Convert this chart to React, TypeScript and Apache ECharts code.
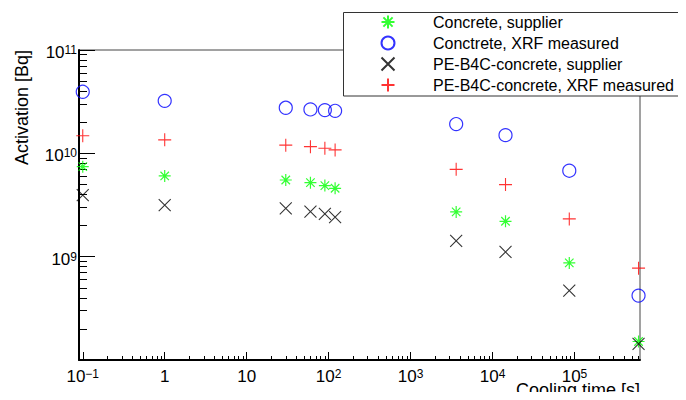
import React, { useEffect, useRef } from "react";
import * as echarts from "echarts";

const FONT = "'Liberation Sans', Arial, Helvetica, sans-serif";

// Cooling time [s]
const coolingTime = [0.1, 1, 30, 60, 90, 120, 3600, 14400, 86400, 604800];
// Activation [Bq]
const concreteSupplier = [7.43e9, 6.04e9, 5.52e9, 5.2e9, 4.87e9, 4.59e9, 2.71e9, 2.2e9, 8.7e8, 1.51e8];
const concreteXrf = [3.94e10, 3.22e10, 2.76e10, 2.66e10, 2.62e10, 2.58e10, 1.92e10, 1.5e10, 6.79e9, 4.2e8];
const peSupplier = [3.95e9, 3.16e9, 2.94e9, 2.73e9, 2.59e9, 2.41e9, 1.42e9, 1.11e9, 4.7e8, 1.43e8];
const peXrf = [1.48e10, 1.35e10, 1.2e10, 1.16e10, 1.12e10, 1.08e10, 7.0e9, 4.98e9, 2.32e9, 7.74e8];

const seriesNames = [
  "Concrete, supplier",
  "Conctrete, XRF measured",
  "PE-B4C-concrete, supplier",
  "PE-B4C-concrete, XRF measured",
];

const xMajorTicks = [0.1, 1, 10, 100, 1e3, 1e4, 1e5];
const yMajorTicks = [1e8, 1e9, 1e10, 1e11];
const yTickLabels = [1e9, 1e10, 1e11];

function minorTicks(lo: number, hi: number, minV: number, maxV: number) {
  const out: number[] = [];
  for (let e = lo; e <= hi; e++) {
    for (let k = 2; k <= 9; k++) {
      const v = k * Math.pow(10, e);
      if (v >= minV && v <= maxV) out.push(v);
    }
  }
  return out;
}

const X_MIN = 0.09;
const X_MAX = 6.3e5;
const Y_MIN = 1e8;
const Y_MAX = 1e11;

const xMinor = minorTicks(-2, 5, X_MIN, X_MAX);
const yMinor = minorTicks(8, 10, Y_MIN, Y_MAX);

const powLabel = (v: number) => {
  const e = Math.round(Math.log10(v));
  if (e === 0) return "{p|1}";
  if (e === 1) return "{p|10}";
  return `{b|10}{s|${e < 0 ? "\u2212" + -e : e}}`;
};

const rich = {
  b: { fontSize: 17, lineHeight: 17, fontFamily: FONT, color: "#000", verticalAlign: "bottom" },
  p: { fontSize: 17, lineHeight: 17, fontFamily: FONT, color: "#000", verticalAlign: "bottom", padding: [7, 0, 0, 0] },
  s: { fontSize: 12, lineHeight: 12, fontFamily: FONT, color: "#000", verticalAlign: "top", padding: [0, 0, 12, 0] },
};

const STAR = "path://M0,6L12,6M6,0L6,12M1.76,1.76L10.24,10.24M10.24,1.76L1.76,10.24";
const CROSS = "path://M0,0L12,12M12,0L0,12";
const PLUS = "path://M0,6L12,6M6,0L6,12";

export default function App() {
  const ref = useRef<HTMLDivElement>(null);
  useEffect(() => {
    if (!ref.current) return;
    const chart = echarts.init(ref.current, null, { renderer: "svg" });
    const mk = (ys: number[]) => coolingTime.map((x, i) => [x, ys[i]]);
    const option: any = {
      animation: false,
      backgroundColor: "#fff",
      grid: {
        left: 79,
        top: 50,
        right: 46,
        bottom: 40,
        show: true,
        borderColor: "#444",
        borderWidth: 1,
        backgroundColor: "transparent",
      },
      xAxis: [
        {
          type: "log",
          min: X_MIN,
          max: X_MAX,
          position: "bottom",
          axisLine: { show: true, onZero: false, lineStyle: { color: "#000", width: 2 } },
          axisTick: { show: true, inside: true, length: 8, customValues: xMajorTicks, lineStyle: { color: "#000", width: 1 } },
          axisLabel: { show: true, customValues: xMajorTicks, formatter: powLabel, rich, margin: 8 },
          splitLine: { show: false },
        },
        {
          type: "log",
          min: X_MIN,
          max: X_MAX,
          position: "bottom",
          axisLine: { show: false, onZero: false },
          axisTick: { show: true, inside: true, length: 4, customValues: xMinor, lineStyle: { color: "#000", width: 1 } },
          axisLabel: { show: false },
          splitLine: { show: false },
        },
      ],
      yAxis: [
        {
          type: "log",
          min: Y_MIN,
          max: Y_MAX,
          position: "left",
          axisLine: { show: true, onZero: false, lineStyle: { color: "#000", width: 2 } },
          axisTick: { show: true, inside: true, length: 16, customValues: yMajorTicks, lineStyle: { color: "#000", width: 1 } },
          axisLabel: { show: true, customValues: yTickLabels, formatter: powLabel, rich, margin: 2, padding: [5, 0, 0, 0] },
          splitLine: { show: false },
        },
        {
          type: "log",
          min: Y_MIN,
          max: Y_MAX,
          position: "left",
          axisLine: { show: false, onZero: false },
          axisTick: { show: true, inside: true, length: 8, customValues: yMinor, lineStyle: { color: "#000", width: 1 } },
          axisLabel: { show: false },
          splitLine: { show: false },
        },
      ],
      legend: {
        orient: "vertical",
        left: 380.5,
        top: 14,
        padding: 0,
        itemWidth: 13,
        itemHeight: 13,
        itemGap: 5,
        z: 10,
        textStyle: { fontFamily: FONT, fontSize: 16, lineHeight: 16, color: "#000", padding: [0, 0, 0, 33.5] },
        data: seriesNames,
      },
      series: [
        {
          name: seriesNames[0],
          type: "scatter",
          symbol: STAR,
          symbolSize: 12,
          itemStyle: { color: "rgba(0,0,0,0)", borderColor: "#00ff00", borderWidth: 1.2 },
          data: mk(concreteSupplier),
        },
        {
          name: seriesNames[1],
          type: "scatter",
          symbol: "circle",
          symbolSize: 13,
          itemStyle: { color: "rgba(0,0,0,0)", borderColor: "#0000ff", borderWidth: 1.2 },
          data: mk(concreteXrf),
        },
        {
          name: seriesNames[2],
          type: "scatter",
          symbol: CROSS,
          symbolSize: 12,
          itemStyle: { color: "rgba(0,0,0,0)", borderColor: "#000", borderWidth: 1.1 },
          data: mk(peSupplier),
        },
        {
          name: seriesNames[3],
          type: "scatter",
          symbol: PLUS,
          symbolSize: 13,
          itemStyle: { color: "rgba(0,0,0,0)", borderColor: "#ff0000", borderWidth: 1.1 },
          data: mk(peXrf),
        },
      ],
      graphic: [
        {
          type: "rect",
          z: 5,
          shape: { x: 343.5, y: 12.5, width: 360, height: 83.5 },
          style: { fill: "#fff", stroke: "#333", lineWidth: 1 },
        },
        {
          type: "text",
          x: 22,
          y: 50,
          rotation: Math.PI / 2,
          style: {
            text: "Activation [Bq]",
            font: `18px ${FONT}`,
            fill: "#000",
            align: "right",
            textAlign: "right",
            verticalAlign: "middle",
            textVerticalAlign: "middle",
          },
        },
        {
          type: "text",
          x: 640,
          y: 390,
          style: {
            text: "Cooling time [s]",
            font: `18px ${FONT}`,
            fill: "#000",
            align: "right",
            textAlign: "right",
            verticalAlign: "middle",
            textVerticalAlign: "middle",
          },
        },
      ],
    };
    chart.setOption(option);
    return () => chart.dispose();
  }, []);
  return <div ref={ref} style={{ width: 686, height: 400, margin: -8 }} />;
}
